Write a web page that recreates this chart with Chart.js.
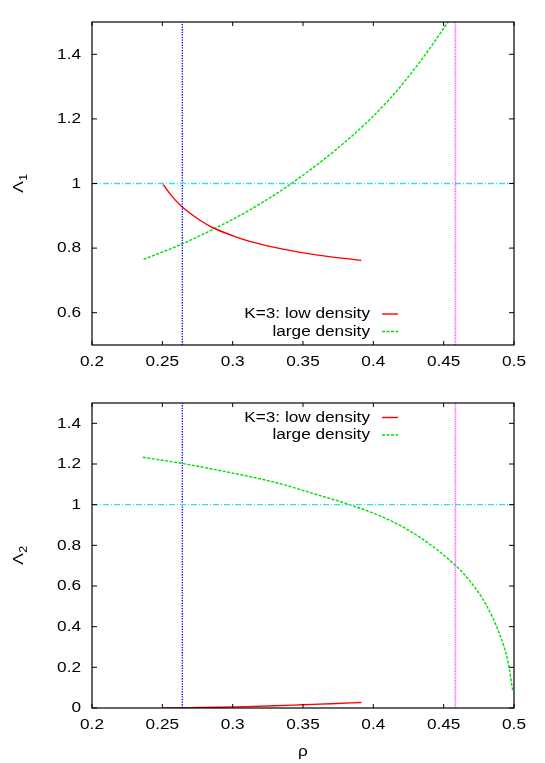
<!DOCTYPE html>
<html>
<head>
<meta charset="utf-8">
<script src="https://cdn.jsdelivr.net/npm/chart.js@4"></script>
<style>
  html, body { margin: 0; padding: 0; background: #fff; }
  #wrap { position: relative; width: 545px; height: 763px; }
  canvas { position: absolute; left: 0; }
</style>
</head>
<body>
<div id="wrap">
  <canvas id="c1" width="545" height="381" style="top:0px"></canvas>
  <canvas id="c2" width="545" height="382" style="top:381px"></canvas>
</div>
<script>
// ---------------- data ----------------
const seriesLabels = ['K=3: low density', 'large density'];

// top panel: Lambda_1
const rhoLow1     = [0.2505, 0.2575, 0.2642, 0.2765, 0.2860, 0.3002, 0.3121, 0.3358, 0.3595, 0.3915];
const lambda1Low  = [0.997,  0.957,  0.927,  0.887,  0.863,  0.838,  0.821,  0.797,  0.779,  0.762];
const rhoLarge1   = [0.2367, 0.2642, 0.2860, 0.3121, 0.3417, 0.3830, 0.4117, 0.4330, 0.4532];
const lambda1Large= [0.765,  0.813,  0.858,  0.918,  1.000,  1.140,  1.262,  1.376,  1.500];

// bottom panel: Lambda_2
const rhoLow2     = [0.2505, 0.2700, 0.2900, 0.3100, 0.3300, 0.3500, 0.3700, 0.3915];
const lambda2Low  = [0.000,  0.002,  0.004,  0.007,  0.011,  0.016,  0.021,  0.027];
const rhoLarge2   = [0.2362, 0.2639, 0.2980, 0.3300, 0.3619, 0.3832, 0.4093, 0.4330, 0.4584, 0.4686, 0.4804, 0.4899, 0.4958, 0.4992];
const lambda2Large= [1.233,  1.203,  1.158,  1.110,  1.045,  1.000,  0.931,  0.840,  0.701,  0.625,  0.505,  0.360,  0.225,  0.080];

// reference lines
const refRho = [0.2642, 0.4583];
const refLambda = 1;

// axes
const xRange = [0.2, 0.5];
const yRange1 = [0.5, 1.5];
const yRange2 = [0, 1.5];
const xTicks = [0.2, 0.25, 0.3, 0.35, 0.4, 0.45, 0.5];
const xTickLabels = ['0.2', '0.25', '0.3', '0.35', '0.4', '0.45', '0.5'];
const yTicks1 = [0.6, 0.8, 1, 1.2, 1.4];
const yTickLabels1 = ['0.6', '0.8', '1', '1.2', '1.4'];
const yTicks2 = [0, 0.2, 0.4, 0.6, 0.8, 1, 1.2, 1.4];
const yTickLabels2 = ['0', '0.2', '0.4', '0.6', '0.8', '1', '1.2', '1.4'];
const yTitleSub1 = '1';
const yTitleSub2 = '2';
const xTitle = 'ρ';
const yTitleMain = 'Λ';

// ---------------- helpers ----------------
const FONT = '"Liberation Sans", Arial, Helvetica, sans-serif';
const FS = 15.5;
const SX = 1.11;

function xy(xs, ys) { return xs.map((x, i) => ({ x: x, y: ys[i] })); }

function txt(ctx, s, x, y, align, size) {
  ctx.save();
  ctx.translate(x, y);
  ctx.scale(SX, 1);
  ctx.font = (size || FS) + 'px ' + FONT;
  ctx.fillStyle = '#000';
  ctx.textAlign = align;
  ctx.textBaseline = 'middle';
  ctx.fillText(s, 0, 0);
  ctx.restore();
}

const STY = {
  red:   { borderColor: '#ff0000', borderWidth: 1.4, borderDash: [] },
  green: { borderColor: '#00dd00', borderWidth: 1.4, borderDash: [3, 1.5] },
  blue:  { borderColor: '#0000ff', borderWidth: 1.3, borderDash: [1.3, 1.3] },
  mag:   { borderColor: '#ff55ff', borderWidth: 1.8, borderDash: [1, 0.8] },
  cyan:  { borderColor: '#33e0e0', borderWidth: 1.3, borderDash: [6, 2, 1, 2] }
};

function mkDatasets(lowX, lowY, largeX, largeY, yr) {
  const base = { showLine: true, pointRadius: 0, pointHoverRadius: 0, fill: false };
  return [
    Object.assign({}, base, STY.cyan, { label: '', data: xy(xRange, [refLambda, refLambda]), tension: 0 }),
    Object.assign({}, base, STY.blue, { label: '', data: xy([refRho[0], refRho[0]], yr), tension: 0 }),
    Object.assign({}, base, STY.mag,  { label: '', data: xy([refRho[1], refRho[1]], yr), tension: 0 }),
    Object.assign({}, base, STY.red,   { label: seriesLabels[0], legend: true, data: xy(lowX, lowY), cubicInterpolationMode: 'monotone' }),
    Object.assign({}, base, STY.green, { label: seriesLabels[1], legend: true, data: xy(largeX, largeY), cubicInterpolationMode: 'monotone' })
  ];
}

const framePlugin = {
  id: 'frame',
  afterDraw(chart, args, opts) {
    const ctx = chart.ctx;
    const a = chart.chartArea;
    const xs = chart.scales.x, ys = chart.scales.y;
    ctx.save();
    // frame
    ctx.strokeStyle = '#000';
    ctx.lineWidth = 1.2;
    ctx.setLineDash([]);
    ctx.strokeRect(a.left, a.top, a.right - a.left, a.bottom - a.top);
    // ticks
    ctx.lineWidth = 1;
    ctx.beginPath();
    opts.xTicks.forEach(v => {
      const px = xs.getPixelForValue(v);
      ctx.moveTo(px, a.bottom); ctx.lineTo(px, a.bottom - 4);
      ctx.moveTo(px, a.top); ctx.lineTo(px, a.top + 4);
    });
    opts.yTicks.forEach(v => {
      const py = ys.getPixelForValue(v);
      ctx.moveTo(a.left, py); ctx.lineTo(a.left + 5, py);
      ctx.moveTo(a.right, py); ctx.lineTo(a.right - 5, py);
    });
    ctx.stroke();
    // tick labels
    opts.xTicks.forEach((v, i) => txt(ctx, opts.xLabels[i], xs.getPixelForValue(v), a.bottom + 17, 'center'));
    opts.yTicks.forEach((v, i) => txt(ctx, opts.yLabels[i], a.left - 11, ys.getPixelForValue(v), 'right'));
    // y title (rotated, with subscript)
    ctx.save();
    ctx.translate(19, (a.top + a.bottom) / 2);
    ctx.rotate(-Math.PI / 2);
    ctx.scale(SX, 1);
    ctx.fillStyle = '#000';
    ctx.textBaseline = 'middle';
    ctx.font = FS + 'px ' + FONT;
    const wL = ctx.measureText(yTitleMain).width;
    ctx.font = (FS * 0.72) + 'px ' + FONT;
    const wS = ctx.measureText(opts.ySub).width;
    const x0 = -(wL + wS) / 2;
    ctx.font = FS + 'px ' + FONT;
    ctx.textAlign = 'left';
    ctx.fillText(yTitleMain, x0, 0);
    ctx.font = (FS * 0.72) + 'px ' + FONT;
    ctx.fillText(opts.ySub, x0 + wL + 0.5, 5);
    ctx.restore();
    // x title
    if (opts.showXTitle) txt(ctx, xTitle, (a.left + a.right) / 2, a.bottom + 44, 'center');
    // legend
    let row = 0;
    chart.data.datasets.forEach(ds => {
      if (!ds.legend) return;
      const y = opts.legendY + row * 17.5;
      txt(ctx, ds.label, opts.legendX, y, 'right');
      ctx.beginPath();
      ctx.strokeStyle = ds.borderColor;
      ctx.lineWidth = ds.borderWidth;
      ctx.setLineDash(ds.borderDash || []);
      ctx.moveTo(opts.legendX + 12, y);
      ctx.lineTo(opts.legendX + 28, y);
      ctx.stroke();
      row++;
    });
    ctx.restore();
  }
};

function mkChart(id, datasets, yr, pad, frameOpts) {
  return new Chart(document.getElementById(id), {
    type: 'scatter',
    data: { datasets: datasets },
    options: {
      responsive: false,
      animation: false,
      devicePixelRatio: 1,
      layout: { padding: pad },
      plugins: { legend: { display: false }, tooltip: { enabled: false }, frame: frameOpts },
      scales: {
        x: { type: 'linear', min: xRange[0], max: xRange[1], display: false },
        y: { type: 'linear', min: yr[0], max: yr[1], display: false }
      }
    },
    plugins: [framePlugin]
  });
}

mkChart('c1', mkDatasets(rhoLow1, lambda1Low, rhoLarge1, lambda1Large, yRange1), yRange1,
  { left: 92, right: 31, top: 22, bottom: 36 },
  { xTicks: xTicks, xLabels: xTickLabels, yTicks: yTicks1, yLabels: yTickLabels1, ySub: yTitleSub1,
    showXTitle: false, legendX: 370, legendY: 314 });

mkChart('c2', mkDatasets(rhoLow2, lambda2Low, rhoLarge2, lambda2Large, yRange2), yRange2,
  { left: 92, right: 31, top: 22, bottom: 55 },
  { xTicks: xTicks, xLabels: xTickLabels, yTicks: yTicks2, yLabels: yTickLabels2, ySub: yTitleSub2,
    showXTitle: true, legendX: 370, legendY: 36.5 });
</script>
</body>
</html>
